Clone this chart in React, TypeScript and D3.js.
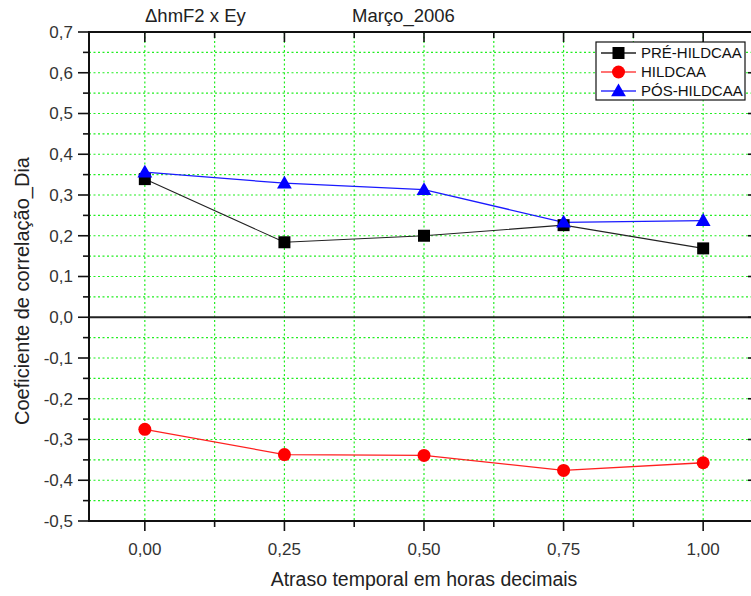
import React from "react";
import * as d3 from "d3";

const lags = [0, 0.25, 0.5, 0.75, 1.0];
const preValues = [0.339, 0.184, 0.2, 0.226, 0.169];
const hildValues = [-0.275, -0.337, -0.339, -0.376, -0.357];
const posValues = [0.356, 0.329, 0.313, 0.233, 0.237];
const xTicks = [0, 0.25, 0.5, 0.75, 1.0];
const xMinorTicks = [-0.125, 0.125, 0.375, 0.625, 0.875, 1.125];
const yTicks = [-0.5, -0.4, -0.3, -0.2, -0.1, 0, 0.1, 0.2, 0.3, 0.4, 0.5, 0.6, 0.7];
const yMinorTicks = [-0.45, -0.35, -0.25, -0.15, -0.05, 0.05, 0.15, 0.25, 0.35, 0.45, 0.55, 0.65];
const seriesNames = ["PRÉ-HILDCAA", "HILDCAA", "PÓS-HILDCAA"];
const titleLeft = "ΔhmF2 x Ey";
const titleRight = "Março_2006";
const xLabel = "Atraso temporal em horas decimais";
const yLabel = "Coeficiente de correlação_Dia";

const W = 751;
const H = 596;
const L = 89, R = 759, T = 32, B = 521;
const FONT = "'Liberation Sans', Arial, sans-serif";

export default function App() {
  const x = d3.scaleLinear().domain([-0.1, 1.1]).range([L, R]);
  const y = d3.scaleLinear().domain([-0.5, 0.7]).range([B, T]);
  const fmt2 = (v: number) => v.toFixed(2).replace(".", ",");
  const fmt1 = (v: number) => (Math.abs(v) < 1e-9 ? "0,0" : v.toFixed(1).replace(".", ","));
  const line = d3
    .line<[number, number]>()
    .x((d) => x(d[0]))
    .y((d) => y(d[1]));
  const pts = (vals: number[]) => lags.map((l, i) => [l, vals[i]] as [number, number]);
  const grid = "#22ee22";
  const tri = d3.symbol().type(d3.symbolTriangle).size(95)() as string;

  const legendItems = [
    { name: seriesNames[0], color: "#000", line: "#222", marker: "square" },
    { name: seriesNames[1], color: "#ff0000", line: "#ff4444", marker: "circle" },
    { name: seriesNames[2], color: "#0000ff", line: "#3333ff", marker: "triangle" },
  ];

  const marker = (kind: string, cx: number, cy: number, color: string, key: string) => {
    if (kind === "square")
      return <rect key={key} x={cx - 6} y={cy - 6} width={12} height={12} fill={color} />;
    if (kind === "circle") return <circle key={key} cx={cx} cy={cy} r={6.5} fill={color} />;
    return <path key={key} d={tri} transform={`translate(${cx},${cy + 1})`} fill={color} />;
  };

  return (
    <svg width={W} height={H} style={{ position: "absolute", left: 0, top: 0, background: "#fff" }} fontFamily={FONT}>
      <defs>
        <clipPath id="plot">
          <rect x={L} y={T} width={R - L} height={B - T} />
        </clipPath>
      </defs>
      {/* grid */}
      <g stroke={grid} strokeWidth={1.2} strokeDasharray="2,2.5">
        {[...yTicks, ...yMinorTicks]
          .filter((v) => v > -0.5 && v < 0.7 && Math.abs(v) > 1e-9)
          .map((v) => (
            <line key={"gy" + v} x1={L} x2={R} y1={y(v)} y2={y(v)} />
          ))}
        {[...xTicks, ...xMinorTicks]
          .filter((v) => v > -0.1 && v < 1.1)
          .map((v) => (
            <line key={"gx" + v} x1={x(v)} x2={x(v)} y1={T} y2={B} />
          ))}
      </g>
      {/* zero line */}
      <line x1={L} x2={R} y1={y(0)} y2={y(0)} stroke="#222" strokeWidth={2} />
      {/* series */}
      <g clipPath="url(#plot)">
        <path d={line(pts(preValues)) as string} fill="none" stroke="#222" strokeWidth={1.1} />
        <path d={line(pts(hildValues)) as string} fill="none" stroke="#ff2020" strokeWidth={1.3} />
        <path d={line(pts(posValues)) as string} fill="none" stroke="#1a1aff" strokeWidth={1.3} />
        {lags.map((l, i) => marker("square", x(l), y(preValues[i]), "#000", "s" + i))}
        {lags.map((l, i) => marker("circle", x(l), y(hildValues[i]), "#ff0000", "c" + i))}
        {lags.map((l, i) => marker("triangle", x(l), y(posValues[i]), "#0000ff", "t" + i))}
      </g>
      {/* axes frame */}
      <g stroke="#111" strokeWidth={2} fill="none">
        <line x1={L} x2={L} y1={T - 1} y2={B + 1} />
        <line x1={L - 1} x2={R} y1={B} y2={B} />
        <line x1={L - 1} x2={R} y1={T} y2={T} />
        <line x1={R} x2={R} y1={T} y2={B} />
      </g>
      {/* ticks */}
      <g stroke="#111" strokeWidth={1.6}>
        {yTicks.map((v) => (
          <g key={"yt" + v}>
            <line x1={L - 11} x2={L} y1={y(v)} y2={y(v)} />
            <line x1={R - 11} x2={R} y1={y(v)} y2={y(v)} />
          </g>
        ))}
        {yMinorTicks.map((v) => (
          <g key={"ym" + v}>
            <line x1={L - 6} x2={L} y1={y(v)} y2={y(v)} />
            <line x1={R - 6} x2={R} y1={y(v)} y2={y(v)} />
          </g>
        ))}
        {xTicks.map((v) => (
          <g key={"xt" + v}>
            <line x1={x(v)} x2={x(v)} y1={B} y2={B + 10} />
            <line x1={x(v)} x2={x(v)} y1={T} y2={T + 10} />
          </g>
        ))}
        {xMinorTicks
          .filter((v) => v > -0.1 && v < 1.1)
          .map((v) => (
            <g key={"xm" + v}>
              <line x1={x(v)} x2={x(v)} y1={B} y2={B + 6} />
              <line x1={x(v)} x2={x(v)} y1={T} y2={T + 6} />
            </g>
          ))}
      </g>
      {/* tick labels */}
      <g fontSize={17} fill="#333">
        {yTicks.map((v) => (
          <text key={"yl" + v} x={L - 16} y={y(v)} dy="0.35em" textAnchor="end">
            {fmt1(v)}
          </text>
        ))}
        {xTicks.map((v) => (
          <text key={"xl" + v} x={x(v)} y={B + 34} textAnchor="middle">
            {fmt2(v)}
          </text>
        ))}
      </g>
      {/* titles */}
      <text x={145} y={22} fontSize={18.5} fill="#222">
        {titleLeft}
      </text>
      <text x={352} y={22} fontSize={18.5} fill="#222">
        {titleRight}
      </text>
      <text x={(L + R) / 2} y={586} fontSize={19.5} fill="#222" textAnchor="middle">
        {xLabel}
      </text>
      <text
        transform={`translate(29,291) rotate(-90)`}
        fontSize={20}
        fill="#222"
        textAnchor="middle"
      >
        {yLabel}
      </text>
      {/* legend */}
      <g>
        <rect x={596} y={42} width={149} height={58} fill="#fff" stroke="#111" strokeWidth={1.2} />
        {legendItems.map((it, i) => {
          const cy = 53 + i * 19;
          return (
            <g key={"lg" + i}>
              <line x1={601} x2={636} y1={cy} y2={cy} stroke={it.line} strokeWidth={1.3} />
              {marker(it.marker, 618.5, cy, it.color, "lm" + i)}
              <text x={641} y={cy} dy="0.36em" fontSize={15} fill="#111">
                {it.name}
              </text>
            </g>
          );
        })}
      </g>
    </svg>
  );
}
